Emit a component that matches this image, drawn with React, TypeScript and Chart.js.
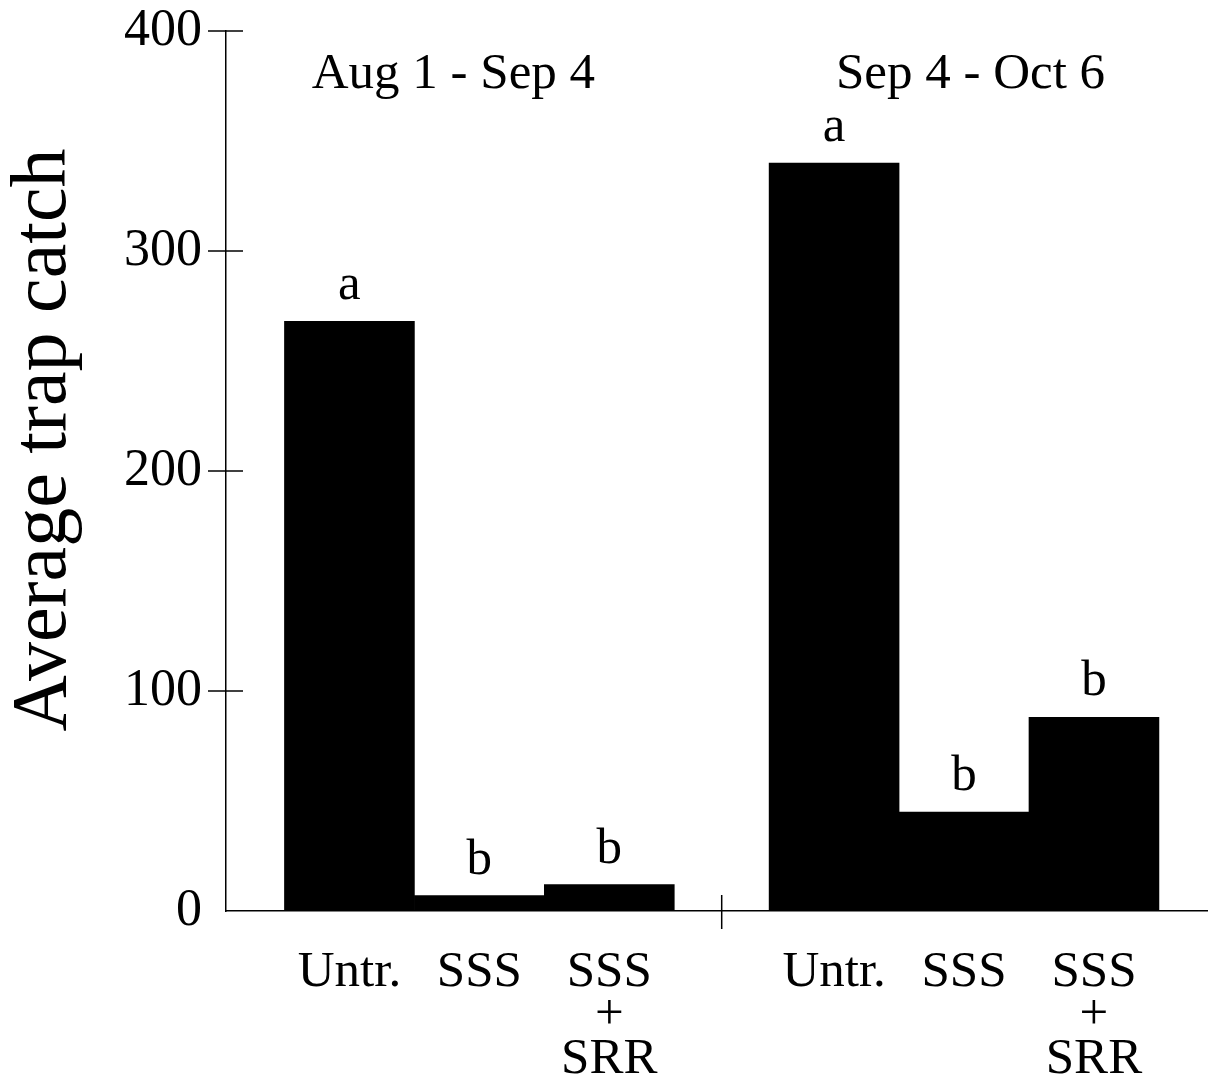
import React, { useEffect, useRef } from "react";
import { Chart, registerables } from "chart.js";

Chart.register(...registerables);

// ---- data ----
const categories: (string | string[])[] = ["Untr.", "SSS", ["SSS", "+", "SRR"]];
const periods = ["Aug 1 - Sep 4", "Sep 4 - Oct 6"];
const augSepCatch = [268, 7, 12];
const sepOctCatch = [340, 45, 88];
const augSepLetters = ["a", "b", "b"];
const sepOctLetters = ["a", "b", "b"];
const yTickValues = [0, 100, 200, 300, 400];
const yTitle = "Average trap catch";

// ---- layout (in bar-width units along the x axis) ----
const GROUP_START = [0.45, 4.18];
const X_MAX = 7.55;
const TITLE_SHIFT = [-0.2, 0.05];
const FONT = "'Liberation Serif', 'Times New Roman', serif";

const groups = [augSepCatch, sepOctCatch];
const letters = [augSepLetters, sepOctLetters];

const points = groups.flatMap((vals, g) =>
  vals.map((v, i) => ({ x: GROUP_START[g] + i + 0.5, y: v }))
);
const pointLetters = letters.flat();
const tickLabels = groups.flatMap((vals) => vals.map((_, i) => categories[i]));

const annotate = {
  id: "annotate",
  afterDraw(chart: any) {
    const { ctx, chartArea, scales } = chart;
    const xs = scales.x;
    const ys = scales.y;
    ctx.save();
    ctx.strokeStyle = "#000";
    ctx.lineWidth = 1.5;
    // y tick crosses
    yTickValues.forEach((v) => {
      if (v === 0) return;
      const py = ys.getPixelForValue(v);
      ctx.beginPath();
      ctx.moveTo(chartArea.left - 18, py);
      ctx.lineTo(chartArea.left + 17, py);
      ctx.stroke();
    });
    // x middle tick between periods
    const mid = (GROUP_START[0] + 3 + GROUP_START[1]) / 2;
    const mx = xs.getPixelForValue(mid);
    ctx.beginPath();
    ctx.moveTo(mx, chartArea.bottom - 16);
    ctx.lineTo(mx, chartArea.bottom + 18);
    ctx.stroke();

    ctx.fillStyle = "#000";
    // significance letters
    ctx.font = `51px ${FONT}`;
    ctx.textAlign = "center";
    ctx.textBaseline = "alphabetic";
    const meta = chart.getDatasetMeta(0);
    meta.data.forEach((bar: any, i: number) => {
      ctx.fillText(pointLetters[i], bar.x, bar.y - 22);
    });
    // period titles
    periods.forEach((p, g) => {
      const cx = xs.getPixelForValue(GROUP_START[g] + 1.5 + TITLE_SHIFT[g]);
      ctx.fillText(p, cx, chartArea.top + 57);
    });
    // y axis title
    ctx.font = `78px ${FONT}`;
    ctx.translate(chartArea.left - 161, chartArea.top + 409);
    ctx.rotate(-Math.PI / 2);
    ctx.textAlign = "center";
    ctx.fillText(yTitle, 0, 0);
    ctx.restore();
  },
};

export default function App() {
  const ref = useRef<HTMLCanvasElement | null>(null);
  useEffect(() => {
    if (!ref.current) return;
    const chart = new Chart(ref.current, {
      type: "bar",
      data: {
        datasets: [
          {
            data: points,
            backgroundColor: "#000",
            borderWidth: 0,
            barPercentage: 1,
            categoryPercentage: 1,
          },
        ],
      },
      options: {
        animation: false,
        responsive: true,
        maintainAspectRatio: false,
        layout: { padding: { top: 31, right: 5, left: 0, bottom: 0 } },
        plugins: { legend: { display: false }, tooltip: { enabled: false } },
        scales: {
          x: {
            type: "linear",
            offset: false,
            min: 0,
            max: X_MAX,
            grid: { display: false, drawTicks: false, offset: false },
            border: { display: true, color: "#000", width: 1.5 },
            afterBuildTicks: (scale: any) => {
              scale.ticks = points.map((p) => ({ value: p.x }));
            },
            afterFit: (scale: any) => {
              scale.height = 167;
              scale.paddingLeft = 0;
              scale.paddingRight = 0;
            },
            ticks: {
              autoSkip: false,
              maxRotation: 0,
              minRotation: 0,
              padding: 40,
              color: "#000",
              font: { family: FONT, size: 51, lineHeight: 0.85 },
              callback: (_v: any, i: number) => tickLabels[i] as any,
            },
          },
          y: {
            min: 0,
            max: 400,
            grid: { display: false, drawTicks: false },
            border: { display: true, color: "#000", width: 1.5 },
            afterFit: (scale: any) => {
              scale.width = 226;
              scale.paddingTop = 0;
              scale.paddingBottom = 0;
            },
            ticks: {
              stepSize: 100,
              padding: 24,
              color: "#000",
              font: { family: FONT, size: 52 },
            },
          },
        },
      },
      plugins: [annotate],
    });
    return () => chart.destroy();
  }, []);
  return (
    <div style={{ position: "absolute", left: 0, top: 0, width: 1212, height: 1078, background: "#fff" }}>
      <canvas ref={ref} />
    </div>
  );
}
